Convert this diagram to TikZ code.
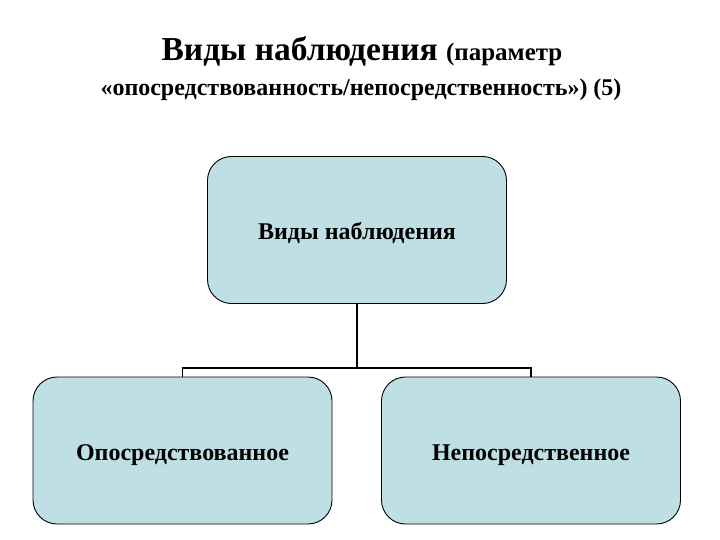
\documentclass[tikz,border=0pt]{standalone}
\usepackage{fontspec}
\setmainfont{Liberation Serif}
\usetikzlibrary{positioning}
\usetikzlibrary{calc}

\definecolor{boxfill}{RGB}{190,224,228}

\begin{document}
\begin{tikzpicture}[x=1pt, y=-1pt, every node/.style={font=\bfseries},
    kind/.style={draw=black, line width=0.9pt, fill=boxfill, rounded corners=24pt, minimum width=299pt, minimum height=147pt, text height=24pt, text depth=5pt, font=\fontsize{24}{28}\selectfont\bfseries},
    branch/.style={line width=1.8pt}]
        \useasboundingbox (0, 0) rectangle (720, 540);

        \node (title) at (362, 51) {\fontsize{33.5}{38}\selectfont Виды наблюдения \fontsize{25}{28}\selectfont(параметр};
        \node (subtitle) at (361, 90) {\fontsize{24}{28}\selectfont «опосредствованность/непосредственность») (5)};

        \node[kind] (root) at (357, 230) {Виды наблюдения};

        \node[kind] (mediated) at (182.5, 450.5) {Опосредствованное};

        \node[kind] (direct) at (531, 450.5) {Непосредственное};

        \coordinate (fork) at (357, 368);
        \draw[branch] (root.south) -- (fork);
        \draw[branch] (mediated.north) -- (mediated.north |- fork) -- (direct.north |- fork) -- (direct.north);
      \end{tikzpicture}
\end{document}
